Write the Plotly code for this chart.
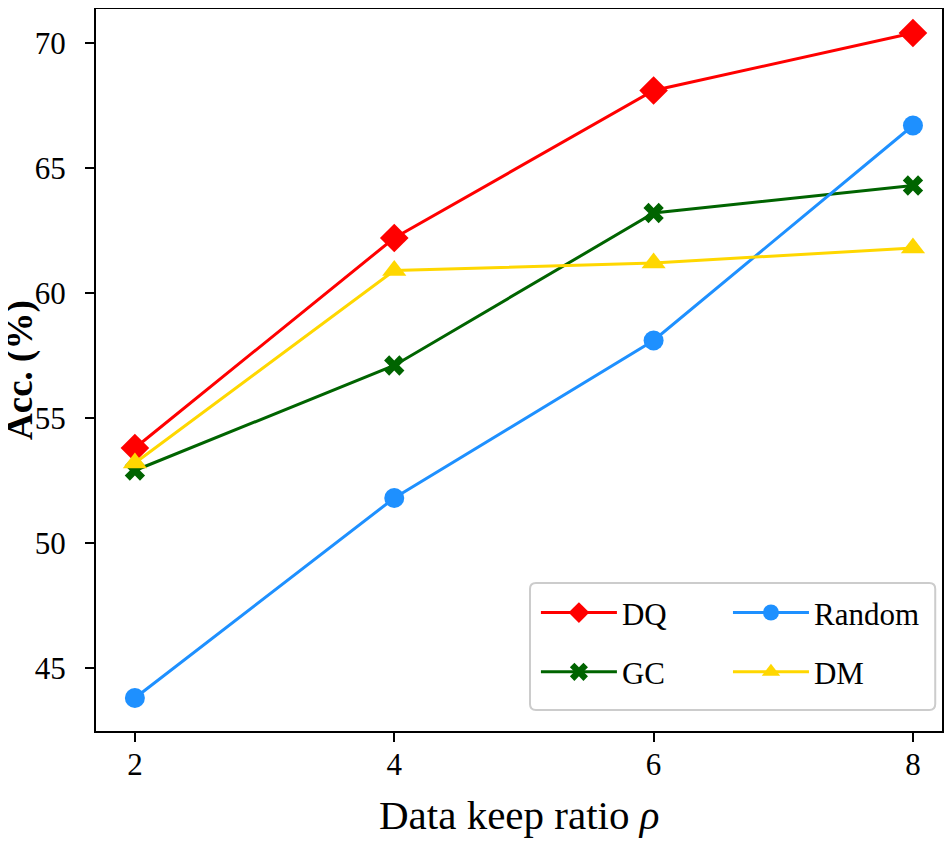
import plotly.graph_objects as go

ratios = [2, 4, 6, 8]
dq = [53.8, 62.2, 68.1, 70.4]
gc = [52.9, 57.1, 63.2, 64.3]
rand = [43.8, 51.8, 58.1, 66.7]
dm = [53.2, 60.9, 61.2, 61.8]

y_ticks = [45, 50, 55, 60, 65, 70]

# name, values, colour, symbol, size, legend box
series = [
    ("DQ", dq, "#ff0000", "diamond", 22, "legend"),
    ("GC", gc, "#006400", "x", 18, "legend"),
    ("Random", rand, "#1e90ff", "circle", 20, "legend2"),
    ("DM", dm, "#ffd700", "triangle-up", 21, "legend2"),
]

fig = go.Figure()
for name, vals, color, sym, size, leg in series:
    fig.add_trace(go.Scatter(
        x=ratios, y=vals, name=name, mode="lines+markers",
        line=dict(color=color, width=3),
        marker=dict(symbol=sym, size=size, color=color, line=dict(width=0)),
        legend=leg, legendgroup=name,
    ))

axis_style = dict(
    showline=True, linecolor="black", linewidth=2, mirror=True,
    ticks="outside", ticklen=9, tickwidth=2, tickcolor="black",
    showgrid=False, zeroline=False, automargin=False,
    tickfont=dict(family="Liberation Serif", size=31, color="black"),
)

fig.update_xaxes(range=[1.70, 8.224], tickvals=ratios,
                 ticklabelstandoff=-4, **axis_style)
fig.update_yaxes(range=[42.48, 71.36], tickvals=y_ticks,
                 ticklabelstandoff=13, **axis_style)

leg_style = dict(
    yanchor="top", xanchor="left", y=0.201,
    bgcolor="rgba(0,0,0,0)", borderwidth=0,
    font=dict(family="Liberation Serif", size=31, color="black"),
    itemwidth=76, tracegroupgap=16,
)

# legend frame with rounded corners (paper units)
x0, x1, y0, y1 = 0.513, 0.992, 0.029, 0.205
rx, ry = 6 / 846, 6 / 722
frame = (f"M {x0+rx},{y0} L {x1-rx},{y0} Q {x1},{y0} {x1},{y0+ry} "
         f"L {x1},{y1-ry} Q {x1},{y1} {x1-rx},{y1} "
         f"L {x0+rx},{y1} Q {x0},{y1} {x0},{y1-ry} "
         f"L {x0},{y0+ry} Q {x0},{y0} {x0+rx},{y0} Z")

fig.update_layout(
    width=936, height=842,
    margin=dict(l=88, r=2, t=1, b=119),
    plot_bgcolor="white", paper_bgcolor="white",
    legend=dict(x=0.520, **leg_style),
    legend2=dict(x=0.747, **leg_style),
    shapes=[dict(
        type="path", xref="paper", yref="paper", path=frame,
        line=dict(color="#cccccc", width=2), fillcolor="white", layer="below",
    )],
    annotations=[
        dict(text="Data keep ratio <i>ρ</i>", xref="paper", yref="paper",
             x=0.5, y=0, xanchor="center", yanchor="middle", yshift=-84,
             showarrow=False,
             font=dict(family="Liberation Serif", size=41, color="black")),
        dict(text="<b>Acc. (%)</b>", xref="paper", yref="paper",
             x=0, y=0.5, xanchor="center", yanchor="middle", xshift=-76,
             textangle=-90, showarrow=False,
             font=dict(family="Liberation Serif", size=37, color="black")),
    ],
)

fig.write_html("out.html")
